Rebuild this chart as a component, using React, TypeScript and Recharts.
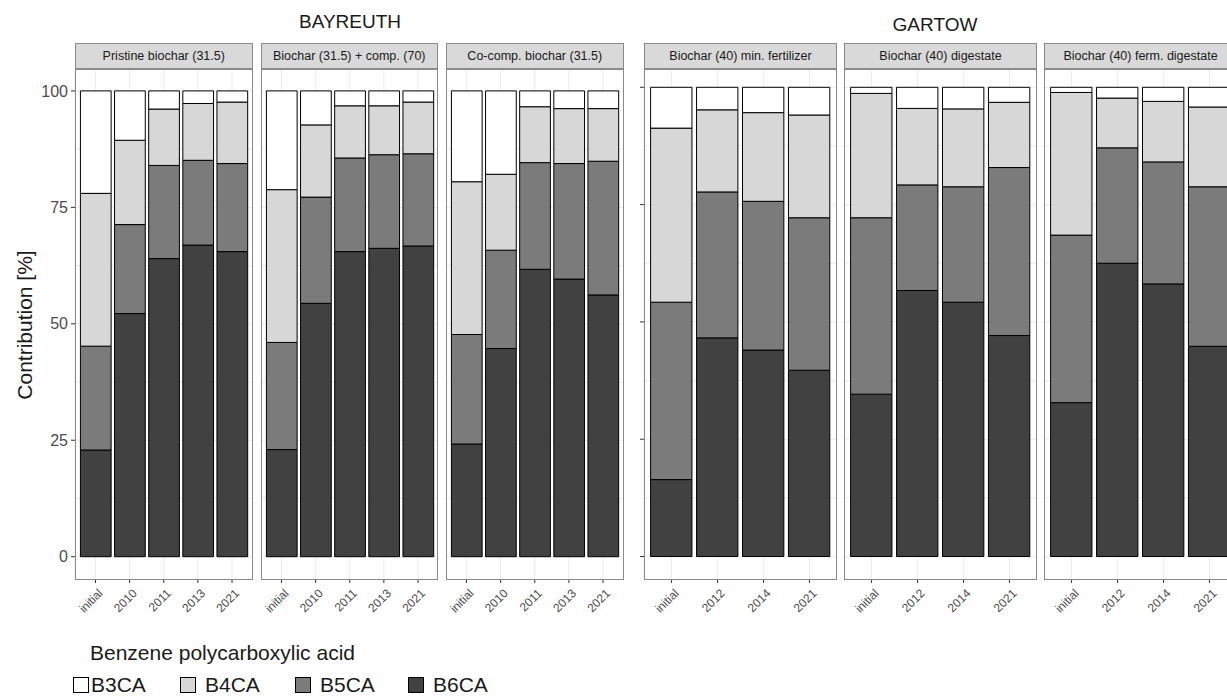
import { Bar, BarChart, CartesianGrid, XAxis, YAxis } from "recharts";

const FONT = '"Liberation Sans", Arial, Helvetica, sans-serif';

// categories
const bayreuthYears = ["initial", "2010", "2011", "2013", "2021"];
const gartowYears = ["initial", "2012", "2014", "2021"];

// Bayreuth – Pristine biochar (31.5)
const pristineB6 = [22.9, 52.2, 64.0, 66.9, 65.5];
const pristineB5 = [22.3, 19.1, 20.0, 18.2, 18.9];
const pristineB4 = [32.8, 18.1, 12.1, 12.2, 13.2];
const pristineB3 = [22.0, 10.6, 3.9, 2.7, 2.4];

// Bayreuth – Biochar (31.5) + comp. (70)
const compB6 = [23.0, 54.4, 65.5, 66.2, 66.7];
const compB5 = [23.0, 22.8, 20.1, 20.1, 19.8];
const compB4 = [32.8, 15.5, 11.2, 10.5, 11.1];
const compB3 = [21.2, 7.3, 3.2, 3.2, 2.4];

// Bayreuth – Co-comp. biochar (31.5)
const cocompB6 = [24.2, 44.7, 61.7, 59.6, 56.2];
const cocompB5 = [23.5, 21.1, 22.9, 24.8, 28.7];
const cocompB4 = [32.8, 16.3, 12.0, 11.8, 11.3];
const cocompB3 = [19.5, 17.9, 3.4, 3.8, 3.8];

// Gartow – Biochar (40) min. fertilizer
const minfertB6 = [16.4, 46.6, 44.0, 39.7];
const minfertB5 = [37.8, 31.1, 31.7, 32.5];
const minfertB4 = [37.1, 17.5, 18.9, 21.9];
const minfertB3 = [8.7, 4.8, 5.4, 5.9];

// Gartow – Biochar (40) digestate
const digestB6 = [34.6, 56.7, 54.2, 47.1];
const digestB5 = [37.6, 22.5, 24.6, 35.8];
const digestB4 = [26.5, 16.3, 16.6, 13.9];
const digestB3 = [1.3, 4.5, 4.6, 3.2];

// Gartow – Biochar (40) ferm. digestate
const fermB6 = [32.8, 62.5, 58.1, 44.8];
const fermB5 = [35.7, 24.6, 26.0, 34.0];
const fermB4 = [30.4, 10.6, 12.9, 17.0];
const fermB3 = [1.1, 2.3, 3.0, 4.2];

const yTicks = [0, 25, 50, 75, 100];
const gridValues = [0, 12.5, 25, 37.5, 50, 62.5, 75, 87.5, 100];

const series = [
  { key: "B6CA", fill: "#414141" },
  { key: "B5CA", fill: "#7b7b7b" },
  { key: "B4CA", fill: "#d7d7d7" },
  { key: "B3CA", fill: "#ffffff" },
];

const legendOrder = ["B3CA", "B4CA", "B5CA", "B6CA"];
const legendX = [73, 180, 295, 408];

function rows(years: string[], b6: number[], b5: number[], b4: number[], b3: number[]) {
  return years.map((year, i) => ({ year, B6CA: b6[i], B5CA: b5[i], B4CA: b4[i], B3CA: b3[i] }));
}

const PANEL_TOP = 69;
const PANEL_H = 511;
const STRIP_TOP = 42.7;
const STRIP_H = 26.6;

const facets = [
  { title: "Pristine biochar (31.5)", left: 75, width: 177.5, axis: "labels", domain: [-5, 104.7], data: rows(bayreuthYears, pristineB6, pristineB5, pristineB4, pristineB3) },
  { title: "Biochar (31.5) + comp. (70)", left: 260.5, width: 177.5, axis: "none", domain: [-5, 104.7], data: rows(bayreuthYears, compB6, compB5, compB4, compB3) },
  { title: "Co-comp. biochar (31.5)", left: 446, width: 177.5, axis: "none", domain: [-5, 104.7], data: rows(bayreuthYears, cocompB6, cocompB5, cocompB4, cocompB3) },
  { title: "Biochar (40) min. fertilizer", left: 644, width: 193, axis: "ticks", domain: [-5, 103.9], data: rows(gartowYears, minfertB6, minfertB5, minfertB4, minfertB3) },
  { title: "Biochar (40) digestate", left: 844, width: 193, axis: "none", domain: [-5, 103.9], data: rows(gartowYears, digestB6, digestB5, digestB4, digestB3) },
  { title: "Biochar (40) ferm. digestate", left: 1044, width: 193, axis: "none", domain: [-5, 103.9], data: rows(gartowYears, fermB6, fermB5, fermB4, fermB3) },
];

const XTick = (props: any) => {
  const { x, y, payload } = props;
  return (
    <g transform={`translate(${x},${y})`}>
      <line x1={0} x2={0} y1={0} y2={3} stroke="#333" strokeWidth={1} />
      <text
        x={8}
        y={14}
        textAnchor="end"
        transform="rotate(-45 8 14)"
        fontSize={12}
        fontFamily={FONT}
        fill="#4d4d4d"
      >
        {payload.value}
      </text>
    </g>
  );
};

// tick mark only, no label (Gartow panel)
const YTickMark = (props: any) => {
  const { x, y } = props;
  return <line x1={x - 4} x2={x} y1={y} y2={y} stroke="#333" strokeWidth={1} />;
};

function Facet({ f }: { f: (typeof facets)[number] }) {
  const n = f.data.length;
  const unit = f.width / (n + 0.2);
  const axisW = f.axis === "labels" ? 75 : f.axis === "ticks" ? 4 : 0;
  return (
    <>
      <div
        style={{
          position: "absolute",
          left: f.left,
          top: STRIP_TOP,
          width: f.width,
          height: STRIP_H,
          boxSizing: "border-box",
          background: "#d9d9d9",
          border: "1px solid #8a8a8a",
          fontSize: 12.5,
          color: "#1a1a1a",
          display: "flex",
          alignItems: "center",
          justifyContent: "center",
          whiteSpace: "nowrap",
        }}
      >
        {f.title}
      </div>
      <div style={{ position: "absolute", left: f.left - axisW, top: PANEL_TOP }}>
        <BarChart
          width={f.width + axisW}
          height={PANEL_H + 70}
          data={f.data}
          margin={{ top: 0, right: 0, bottom: 0, left: 0 }}
          barGap={0}
        >
          <CartesianGrid stroke="#ebebeb" horizontalValues={gridValues} />
          <XAxis
            dataKey="year"
            interval={0}
            height={70}
            axisLine={false}
            tickLine={false}
            tickSize={0}
            tickMargin={0}
            padding={{ left: unit * 0.1, right: unit * 0.1 }}
            tick={<XTick />}
          />
          <YAxis
            type="number"
            domain={f.domain}
            ticks={yTicks}
            allowDataOverflow
            hide={f.axis === "none"}
            width={axisW}
            axisLine={false}
            tickSize={f.axis === "labels" ? 4 : 0}
            tickMargin={f.axis === "labels" ? 3 : 0}
            tickLine={f.axis === "labels" ? { stroke: "#333" } : false}
            tick={f.axis === "labels" ? { fill: "#4d4d4d", fontSize: 16, fontFamily: FONT } : <YTickMark />}
          />
          {series.map((s) => (
            <Bar
              key={s.key}
              dataKey={s.key}
              stackId="a"
              fill={s.fill}
              stroke="#000"
              strokeWidth={1}
              barSize={unit * 0.9}
              isAnimationActive={false}
            />
          ))}
        </BarChart>
      </div>
      <div
        style={{
          position: "absolute",
          left: f.left,
          top: PANEL_TOP,
          width: f.width,
          height: PANEL_H,
          boxSizing: "border-box",
          border: "1px solid #8a8a8a",
          pointerEvents: "none",
        }}
      />
    </>
  );
}

const fillOf = (k: string) => series.find((s) => s.key === k)!.fill;

export default function App() {
  return (
    <div
      style={{
        position: "absolute",
        left: 0,
        top: 0,
        width: 1227,
        height: 698,
        overflow: "hidden",
        background: "#fff",
        fontFamily: FONT,
      }}
    >
      <div style={{ position: "absolute", left: 250, width: 200, top: 11, textAlign: "center", fontSize: 19, color: "#1a1a1a" }}>
        BAYREUTH
      </div>
      <div style={{ position: "absolute", left: 835, width: 200, top: 14, textAlign: "center", fontSize: 19, color: "#1a1a1a" }}>
        GARTOW
      </div>
      <div
        style={{
          position: "absolute",
          left: 25,
          top: 325,
          transform: "translate(-50%, -50%) rotate(-90deg)",
          fontSize: 21,
          color: "#1a1a1a",
          whiteSpace: "nowrap",
        }}
      >
        Contribution [%]
      </div>
      {facets.map((f) => (
        <Facet key={f.title} f={f} />
      ))}
      <div style={{ position: "absolute", left: 90, top: 641, fontSize: 21, color: "#1a1a1a", whiteSpace: "nowrap" }}>
        Benzene polycarboxylic acid
      </div>
      {legendOrder.map((k, i) => (
        <div
          key={k}
          style={{ position: "absolute", left: legendX[i], top: 673, display: "flex", alignItems: "center", fontSize: 21, color: "#1a1a1a" }}
        >
          <span
            style={{
              width: 16,
              height: 16,
              boxSizing: "border-box",
              border: "1px solid #000",
              background: fillOf(k),
              marginRight: i === 0 ? 2 : 9,
            }}
          />
          <span>{k}</span>
        </div>
      ))}
    </div>
  );
}
